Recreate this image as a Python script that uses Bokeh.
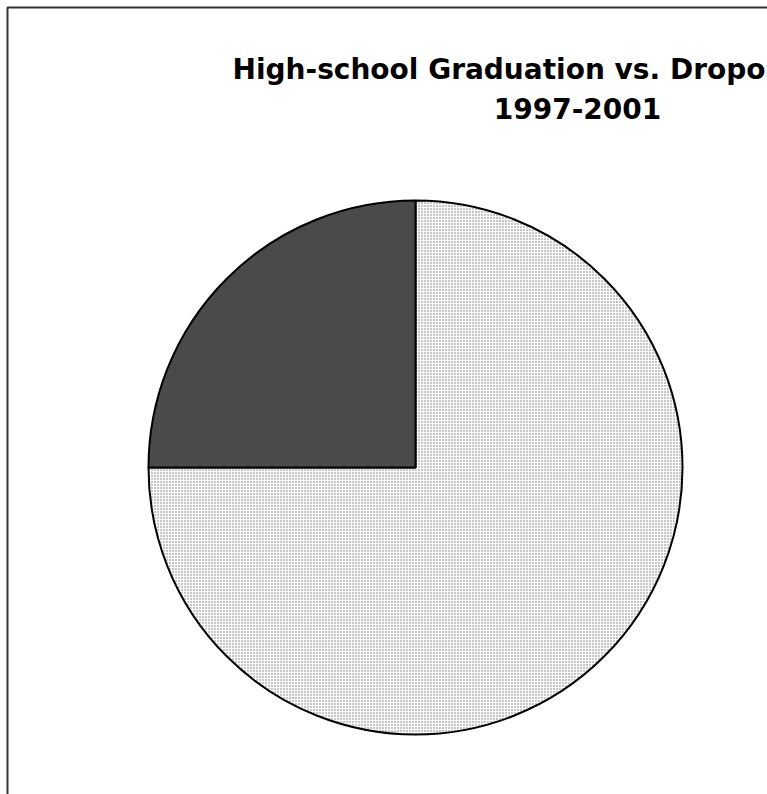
import math
from bokeh.plotting import figure
from bokeh.models import Range1d, BoxAnnotation, ColumnDataSource
from bokeh.core.properties import value
from bokeh.embed import file_html
from bokeh.resources import INLINE

# ---- data ----
categories = ["Graduation", "Dropouts"]
shares = [75, 25]
title_lines = ["High-school Graduation vs. Dropouts", "1997-2001"]

W, H = 767, 794
p = figure(width=W, height=H, output_backend="svg", toolbar_location=None,
           x_range=Range1d(0, W), y_range=Range1d(0, H), min_border=0,
           outline_line_color=None, background_fill_color="white",
           border_fill_color="white")
p.axis.visible = False
p.grid.visible = False

# chart-area border (extends past the right and bottom of the window)
p.add_layout(BoxAnnotation(left=7, right=770, top=H - 7, bottom=-40,
                           fill_color=None, fill_alpha=0, line_color="#333333",
                           line_alpha=1.0, line_width=2))

# pie: clockwise from 12 o'clock
total = float(sum(shares))
starts, ends = [], []
cum = 0.0
for v in shares:
    starts.append(math.pi / 2 - 2 * math.pi * cum / total)
    cum += v
    ends.append(math.pi / 2 - 2 * math.pi * cum / total)

cx, cy, r = 415, H - 467, 267

src_light = ColumnDataSource(dict(cat=[categories[0]], s=[starts[0]], e=[ends[0]]))
src_dark = ColumnDataSource(dict(cat=[categories[1]], s=[starts[1]], e=[ends[1]]))

p.wedge(x=cx, y=cy, radius=r, start_angle="s", end_angle="e", direction="clock",
        source=src_light, fill_color="white", hatch_pattern="dot",
        hatch_color="#707070", hatch_scale=3, hatch_weight=1,
        line_color="black", line_width=2)
p.wedge(x=cx, y=cy, radius=r, start_angle="s", end_angle="e", direction="clock",
        source=src_dark, fill_color="#4a4a4a", line_color="black", line_width=2)

# title
p.text(x=[232], y=[H - 69], text=[title_lines[0]], text_font=value("DejaVu Sans"),
       text_font_style="bold", text_font_size="28px", text_align="left",
       text_baseline="alphabetic", text_color="black")
p.text(x=[577], y=[H - 108], text=[title_lines[1]], text_font=value("DejaVu Sans"),
       text_font_style="bold", text_font_size="28px", text_align="center",
       text_baseline="alphabetic", text_color="black")

open("out.html", "w").write(file_html(p, INLINE))
